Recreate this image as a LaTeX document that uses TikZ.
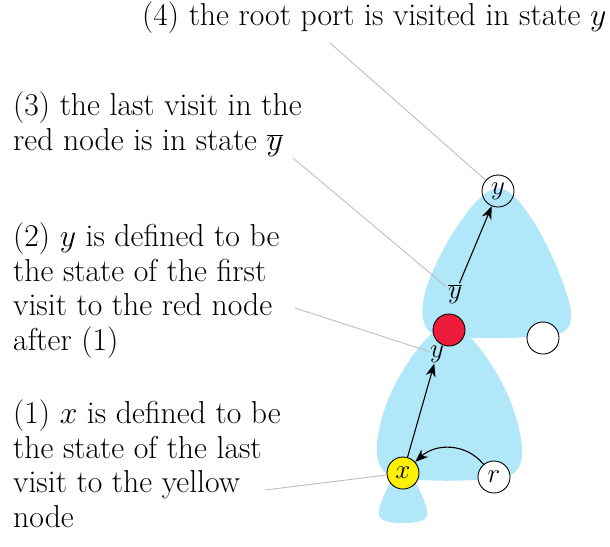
\RequirePackage{fix-cm}
\documentclass[tikz,border=0pt]{standalone}
\usetikzlibrary{arrows.meta}
\definecolor{blobblue}{RGB}{176,232,250}
\definecolor{nodered}{RGB}{237,28,58}
\definecolor{nodeyellow}{RGB}{255,242,0}
\definecolor{leadgray}{RGB}{190,190,190}
\tikzset{
  txt/.style={anchor=base west, inner sep=0pt, align=left, font=\fontsize{31.7pt}{34.5pt}\selectfont},
  port/.style={circle, draw=black, line width=0.9pt, minimum size=32pt, inner sep=0pt, font=\fontsize{27pt}{30pt}\selectfont},
  statelbl/.style={inner sep=1pt, font=\fontsize{27pt}{30pt}\selectfont},
  lead/.style={draw=leadgray, line width=0.9pt},
  arr/.style={draw=black, line width=1.1pt, -{Stealth[length=13pt,width=10pt,inset=4pt]}},
  blob/.style={fill=blobblue, draw=none}
}
\begin{document}
\begin{tikzpicture}[x=1pt,y=-1pt]
\useasboundingbox (0,0) rectangle (610,546);
% blobs
\path[blob] (498,188) .. controls (518,188) and (545,238) .. (558,270)
  .. controls (572,305) and (580,330) .. (555,335)
  .. controls (520,339) and (470,339) .. (440,336)
  .. controls (418,333) and (420,305) .. (428,283)
  .. controls (443,243) and (478,188) .. (498,188) -- cycle;
\path[blob] (449,325) .. controls (470,325) and (503,378) .. (513,408)
  .. controls (523,438) and (530,472) .. (505,477)
  .. controls (470,482) and (420,482) .. (395,477)
  .. controls (370,472) and (375,438) .. (385,408)
  .. controls (395,378) and (428,325) .. (449,325) -- cycle;
\path[blob] (403,470) .. controls (412,470) and (425,500) .. (427,510)
  .. controls (430,522) and (415,523) .. (403,523)
  .. controls (391,523) and (376,522) .. (379,510)
  .. controls (381,500) and (394,470) .. (403,470) -- cycle;
% ports
\node[port] (top) at (498,191) {$y$};
\node[port, fill=nodered] (red) at (449,330) {};
\node[port, fill=white] (wht) at (543,338) {};
\node[port, fill=nodeyellow] (xn) at (403,473) {$x$};
\node[port, fill=white] (rn) at (494,477) {$r$};
% state labels
\node[statelbl] (ybl) at (455,294) {$\overline{y}$};
\node[statelbl] (yl) at (437,354) {$y$};
% arrows
\draw[arr] (xn) -- (yl);
\draw[arr] (ybl) -- (top);
\draw[arr] (rn) .. controls (466,443) and (436,443) .. (xn);
% texts
\node[txt] (t4) at (142,25) {(4) the root port is visited in state $y$};
\node[txt] (t3) at (13,150) {(3) the last visit in the\\red node is in state $\overline{y}$};
\node[txt] (t2) at (13,350) {(2) $y$ is defined to be\\the state of the first\\visit to the red node\\after (1)};
\node[txt] (t1) at (13,527) {(1) $x$ is defined to be\\the state of the last\\visit to the yellow\\node};
% leader lines
\coordinate (c4) at (330,43);
\coordinate (c3) at (293,158);
\coordinate (c2) at (295,308);
\coordinate (c1) at (265,490);
\draw[lead] (c4) -- (top);
\draw[lead] (c3) -- (ybl);
\draw[lead] (c2) -- (yl);
\draw[lead] (c1) -- (xn);
\end{tikzpicture}
\end{document}
